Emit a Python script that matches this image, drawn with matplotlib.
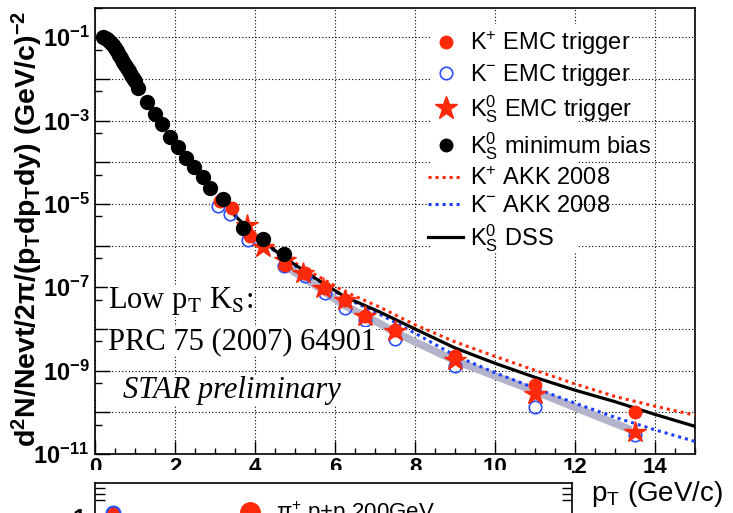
import matplotlib
matplotlib.use("Agg")
import numpy as np
import matplotlib.pyplot as plt
from matplotlib.patches import Rectangle
from matplotlib.lines import Line2D
from matplotlib.ticker import (FixedLocator, MultipleLocator, FuncFormatter,
                               NullFormatter, LogLocator)

plt.rcParams["font.family"] = ["Liberation Sans", "DejaVu Sans"]
plt.rcParams["mathtext.fontset"] = "custom"
plt.rcParams["mathtext.rm"] = "Liberation Sans"
plt.rcParams["mathtext.it"] = "Liberation Sans:italic"
plt.rcParams["mathtext.bf"] = "Liberation Sans:bold"

# ---- data ----
# K0s minimum bias
mb_pt = [0.2, 0.25, 0.3, 0.35, 0.4, 0.45, 0.5, 0.55, 0.6, 0.65, 0.7, 0.75,
         0.8, 0.85, 0.9, 0.95, 1.0, 1.08, 1.29, 1.5, 1.67, 1.875, 2.08, 2.28,
         2.48, 2.69, 2.875, 3.19, 3.71, 4.21, 4.73]
mb_y = [1.0e-1, 9.5e-2, 8.9e-2, 8.1e-2, 7.4e-2, 6.5e-2, 5.5e-2, 4.7e-2,
        3.8e-2, 3.2e-2, 2.6e-2, 2.2e-2, 1.8e-2, 1.5e-2, 1.26e-2, 1.05e-2,
        8.7e-3, 5.9e-3, 2.75e-3, 1.45e-3, 8.3e-4, 4.0e-4, 2.3e-4, 1.26e-4,
        7.6e-5, 4.3e-5, 2.4e-5, 1.3e-5, 2.7e-6, 1.4e-6, 6.2e-7]

# K+ EMC trigger
kp_pt = [3.125, 3.42, 3.875, 4.75, 5.25, 5.75, 6.25, 6.75, 7.5, 9.0, 11.0, 13.5]
kp_y = [1.17e-5, 8.1e-6, 1.7e-6, 3.5e-7, 2.2e-7, 9.5e-8, 5.0e-8, 2.0e-8,
        9.5e-9, 2.2e-9, 4.6e-10, 1.0e-10]

# K- EMC trigger
km_pt = [3.08, 3.375, 3.83, 4.73, 5.25, 5.75, 6.25, 6.75, 7.5, 9.0, 11.0, 13.5]
km_y = [8.9e-6, 5.6e-6, 1.35e-6, 3.2e-7, 1.9e-7, 7.2e-8, 3.2e-8, 1.66e-8,
        5.8e-9, 1.26e-9, 1.35e-10, 2.8e-11]

# K0s EMC trigger
ks_pt = [3.79, 4.21, 4.75, 5.21, 5.71, 6.25, 6.75, 7.5, 9.0, 11.0, 13.5]
ks_y = [3.2e-6, 9.0e-7, 4.5e-7, 2.2e-7, 9.5e-8, 5.0e-8, 2.1e-8, 8.9e-9,
        1.8e-9, 2.8e-10, 3.4e-11]

# K0s DSS
dss_pt = [3.5, 4.0, 4.7, 5.5, 6.25, 7.1, 8.0, 9.0, 10.0, 11.0, 12.0, 13.0, 14.0, 15.0]
dss_y = [5.2e-6, 1.8e-6, 5.4e-7, 1.66e-7, 5.9e-8, 2.6e-8, 1.0e-8, 3.5e-9,
         1.5e-9, 6.9e-10, 3.4e-10, 1.8e-10, 8.9e-11, 4.6e-11]

# K+ / K- AKK 2008
akk_pt = [4.0, 4.95, 6.25, 7.1, 8.0, 9.0, 10.0, 11.0, 12.0, 13.0, 14.0, 15.0]
akkp_y = [1.8e-6, 4.1e-7, 7.8e-8, 3.4e-8, 1.26e-8, 4.9e-9, 2.2e-9, 1.02e-9,
          4.8e-10, 2.4e-10, 1.4e-10, 8.5e-11]
akkm_y = [1.66e-6, 3.5e-7, 5.6e-8, 2.3e-8, 7.9e-9, 2.3e-9, 8.9e-10, 3.8e-10,
          1.66e-10, 7.6e-11, 3.8e-11, 2.0e-11]

# grey band
band_pt = [4.6, 5.5, 6.25, 7.1, 7.5, 9.0, 11.0, 13.4]
band_y = [4.0e-7, 1.12e-7, 3.6e-8, 1.38e-8, 8.3e-9, 1.74e-9, 3.2e-10, 3.8e-11]

# lower panel (only its top is visible)
low_pt = [0.45]
low_y = [1.08]

RED = "#ff2a0a"
BLUE = "#2a50ff"
GREY = "#b3b3cc"

W, H = 733, 513


def fx(px):
    return px / W


def fy(py):
    return 1 - py / H


fig = plt.figure(figsize=(W / 100, H / 100), dpi=100)
ax = fig.add_axes([fx(95), fy(454), fx(695) - fx(95), fy(8) - fy(454)])
ax.set_yscale("log")
ax.set_xlim(0, 15)
ax.set_ylim(1e-11, 0.5)

ax.plot(band_pt, band_y, color=GREY, lw=5.5, solid_capstyle="butt", zorder=2)
ax.plot(akk_pt, akkm_y, color="#1a40ff", lw=2.2, ls=(0, (1, 1.3)), zorder=3)
ax.plot(akk_pt, akkp_y, color=RED, lw=2.2, ls=(0, (1, 1.3)), zorder=3)
ax.plot(dss_pt, dss_y, color="black", lw=2.3, zorder=3)
ax.plot(km_pt, km_y, "o", mfc="none", mec=BLUE, mew=1.2, ms=9, zorder=4)
ax.plot(kp_pt, kp_y, "o", color=RED, ms=9, zorder=5)
ax.plot(ks_pt, ks_y, "*", color=RED, ms=16, zorder=6)
ax.plot(mb_pt, mb_y, "o", color="black", ms=10, zorder=7)

# ticks and grid
ax.xaxis.set_major_locator(MultipleLocator(2))
ax.xaxis.set_minor_locator(MultipleLocator(0.5))
ax.yaxis.set_major_locator(LogLocator(base=10, numticks=30))
ax.yaxis.set_minor_locator(LogLocator(base=10, subs=[5], numticks=30))
ax.yaxis.set_minor_formatter(NullFormatter())


def ylab(v, pos):
    e = int(round(np.log10(v)))
    if e % 2 == 0:
        return ""
    return r"$\mathbf{10^{%d}}$" % e


ax.yaxis.set_major_formatter(FuncFormatter(ylab))
ax.tick_params(which="both", direction="in", top=False, right=False)
ax.tick_params(axis="y", which="major", length=11, width=1, pad=4, labelsize=17)
ax.tick_params(axis="y", which="minor", length=5, width=1)
ax.tick_params(axis="x", which="major", length=9.5, width=1, pad=2, labelsize=16)
ax.tick_params(axis="x", which="minor", length=4, width=1)
for lab in ax.get_xticklabels():
    lab.set_fontweight("bold")
for sp in ax.spines.values():
    sp.set_linewidth(1.2)
ax.grid(True, which="major", ls=(0, (1, 2)), color="black", lw=0.8)

# white area behind the legend
for (x0, y0, x1, y1) in [(432, 24, 578, 252), (432, 24, 632, 55)]:
    ax.add_patch(Rectangle((fx(x0), fy(y1)), fx(x1) - fx(x0), fy(y0) - fy(y1),
                           transform=fig.transFigure, facecolor="white",
                           edgecolor="none", zorder=1.8))

handles = [
    Line2D([], [], ls="none", marker="o", color=RED, ms=9),
    Line2D([], [], ls="none", marker="o", mfc="none", mec=BLUE, mew=1.2, ms=9),
    Line2D([], [], ls="none", marker="*", color=RED, ms=17),
    Line2D([], [], ls="none", marker="o", color="black", ms=9),
    Line2D([], [], color=RED, lw=2.2, ls=(0, (1, 1.3))),
    Line2D([], [], color="#1a40ff", lw=2.2, ls=(0, (1, 1.3))),
    Line2D([], [], color="black", lw=2.3),
]
labels = [
    r"K$^{+}$ EMC trigger",
    r"K$^{-}$ EMC trigger",
    r"K$^{0}_{\mathrm{S}}$ EMC trigger",
    r"K$^{0}_{\mathrm{S}}$ minimum bias",
    r"K$^{+}$ AKK 2008",
    r"K$^{-}$ AKK 2008",
    r"K$^{0}_{\mathrm{S}}$ DSS",
]
leg = ax.legend(handles, labels, loc="upper left",
                bbox_to_anchor=(fx(428), fy(29)), bbox_transform=fig.transFigure,
                frameon=False, fontsize=17, handlelength=1.5, handletextpad=0.3,
                borderpad=0, borderaxespad=0, labelspacing=0.22, numpoints=1)
leg.set_zorder(10)

# text in the plot
serif = dict(family="Liberation Serif", fontsize=22, math_fontfamily="stix",
             va="baseline", ha="left",
             bbox=dict(facecolor="white", edgecolor="none", pad=0))
fig.text(fx(108), fy(308), r"Low p$_{\mathrm{T}}$ K$_{\mathrm{S}}$:", **serif)
fig.text(fx(108), fy(349), "PRC 75 (2007) 64901", **serif)
fig.text(fx(123), fy(398), "STAR preliminary", style="italic", **serif)

fig.text(fx(27), fy(229),
         r"d$^{\mathbf{2}}$N/Nevt/2π/(p$_{\mathbf{T}}$dp$_{\mathbf{T}}$dy) (GeV/c)$^{\mathbf{-2}}$",
         rotation=90, ha="center", va="center", fontsize=20.5, fontweight="bold")

# lower panel, cut by the page edge
fig.patches.append(Rectangle((fx(55), 0), fx(572) - fx(55), fy(470),
                             transform=fig.transFigure, facecolor="white",
                             edgecolor="none", zorder=1))
ax2 = fig.add_axes([fx(95), fy(560), fx(572) - fx(95), fy(483) - fy(560)])
ax2.set_zorder(2)
ax2.set_xlim(0, 477 / 40)
ax2.set_ylim(1 + 35 / 60 - 77 / 60, 1 + 35 / 60)
ax2.plot(low_pt, low_y, "o", mfc=RED, mec=BLUE, mew=1.5, ms=10)
ax2.set_xticks([])
ax2.yaxis.set_major_locator(FixedLocator([1]))
ax2.yaxis.set_major_formatter(FuncFormatter(lambda v, p: r"$\mathbf{1}$"))
ax2.yaxis.set_minor_locator(FixedLocator([1.3, 1.4, 1.5]))
ax2.tick_params(axis="y", which="both", direction="in", right=True,
                labelsize=17, pad=6)
ax2.tick_params(axis="y", which="major", length=11, width=1)
ax2.tick_params(axis="y", which="minor", length=7, width=1)
for sp in ax2.spines.values():
    sp.set_linewidth(1.2)
ax2.legend([Line2D([], [], ls="none", marker="o", color=RED, ms=14)],
           [r"π$^{+}$ p+p 200GeV"], loc="upper left",
           bbox_to_anchor=(fx(236), fy(500)), bbox_transform=fig.transFigure,
           frameon=False, fontsize=16, handlelength=1.3, handletextpad=0.5,
           borderpad=0, borderaxespad=0, numpoints=1)

fig.text(fx(591), fy(494), r"p$_{\mathrm{T}}$ (GeV/c)", fontsize=20,
         ha="left", va="center")

fig.savefig("out.png", dpi=100)
